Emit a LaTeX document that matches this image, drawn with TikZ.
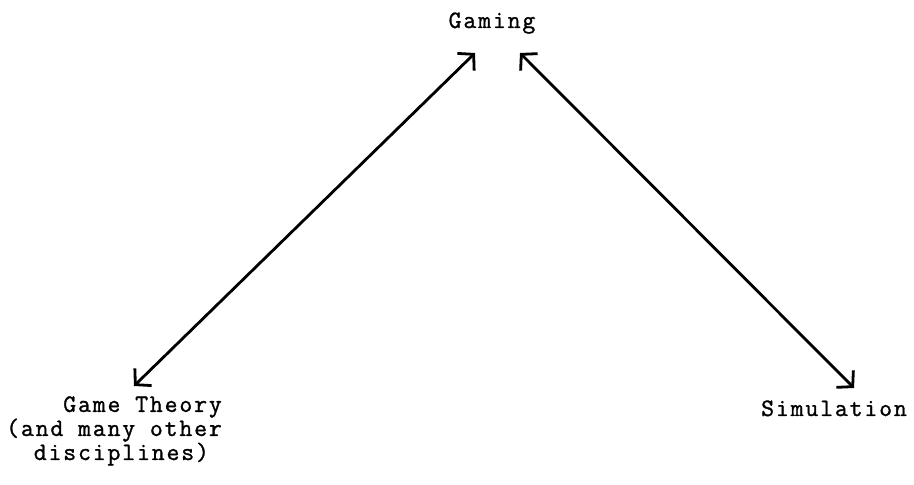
\documentclass[tikz,border=0pt]{standalone}
\usepackage{fontspec}
\usetikzlibrary{arrows.meta}
\newfontfamily\twfont{Latin Modern Mono}[LetterSpace=7.5,FakeBold=1.2]
\tikzset{
  label/.style={font=\twfont\fontsize{25}{22}\selectfont, inner sep=0pt, text=black},
  link/.style={line width=2.8pt, {Straight Barb[length=11pt,width=24pt,line width=2.8pt]}-{Straight Barb[length=11pt,width=24pt,line width=2.8pt]}}
}
\begin{document}
\begin{tikzpicture}[x=1pt,y=1pt]
\useasboundingbox (0,0) rectangle (914,485);
\node[label, anchor=base] (gaming) at (492,457) {Gaming};
\node[label, anchor=base west, align=left] (theory) at (6,25) {\hphantom{xxxx}Game Theory\\(and many other\\\hphantom{xx}disciplines)};
\node[label, anchor=base west] (sim) at (761,69) {Simulation};
\coordinate (gL) at (475,432);
\coordinate (gR) at (520,432);
\coordinate (tT) at (134,99);
\coordinate (sT) at (854,97);
\draw[link] (tT) -- (gL);
\draw[link] (gR) -- (sT);
\end{tikzpicture}
\end{document}
